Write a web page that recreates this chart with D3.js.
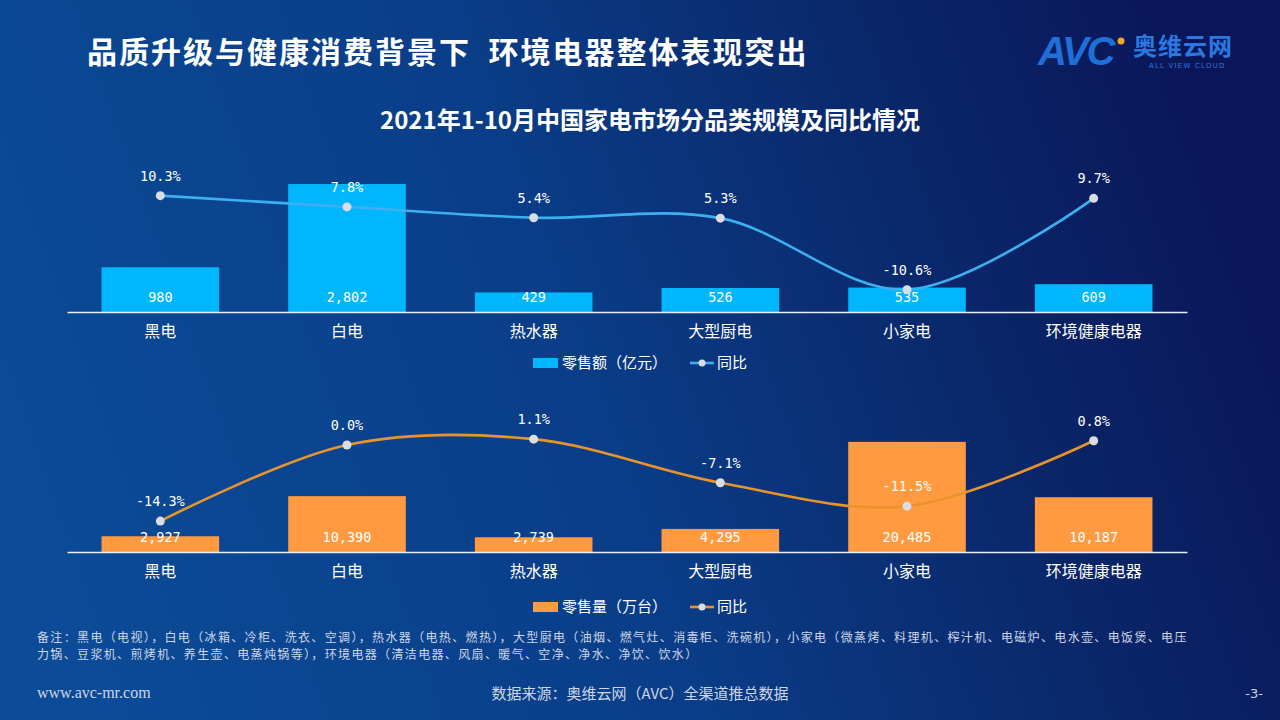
<!DOCTYPE html>
<html><head><meta charset="utf-8">
<script src="https://cdn.jsdelivr.net/npm/d3@7/dist/d3.min.js"></script>
<style>
html,body{margin:0;padding:0;background:#0a2f78;}
svg{display:block;}
</style></head>
<body>
<svg id="c" width="1280" height="720"></svg>
<script>
const categories = ["黑电","白电","热水器","大型厨电","小家电","环境健康电器"];
const salesValue = [980, 2802, 429, 526, 535, 609];          // 零售额（亿元）
const salesValueYoY = [10.3, 7.8, 5.4, 5.3, -10.6, 9.7];       // 同比 %
const salesVolume = [2927, 10390, 2739, 4295, 20485, 10187];  // 零售量（万台）
const salesVolumeYoY = [-14.3, 0.0, 1.1, -7.1, -11.5, 0.8];    // 同比 %
const legendTop = ["零售额（亿元）","同比"];
const legendBottom = ["零售量（万台）","同比"];

const svg = d3.select("#c");
const defs = svg.append("defs");
const g = defs.append("linearGradient").attr("id","bg").attr("x1","0").attr("y1","0.6").attr("x2","1").attr("y2","0.4");
g.append("stop").attr("offset","0").attr("stop-color","#0b4b97");
g.append("stop").attr("offset","0.45").attr("stop-color","#0a3d88");
g.append("stop").attr("offset","0.8").attr("stop-color","#0a2466");
g.append("stop").attr("offset","1").attr("stop-color","#0a1658");
svg.append("rect").attr("width",1280).attr("height",720).attr("fill","url(#bg)");

const CJK = "'Noto Sans CJK SC','Noto Sans',sans-serif";
const MONO = "'DejaVu Sans Mono','Liberation Mono',monospace";

// Header
svg.append("text").attr("x",87).attr("y",63).attr("fill","#ffffff")
  .attr("font-family",CJK).attr("font-weight",700).attr("font-size",30).attr("letter-spacing",2)
  .attr("xml:space","preserve")
  .text("品质升级与健康消费背景下  环境电器整体表现突出");

// Logo
const logo = svg.append("g");
logo.append("text").attr("x",1038).attr("y",65).attr("fill","#1f6fd8")
  .attr("font-family","'Liberation Sans',Arial,sans-serif").attr("font-weight",700).attr("font-style","italic")
  .attr("font-size",40).attr("letter-spacing",-2).text("AVC");
logo.append("circle").attr("cx",1121).attr("cy",41).attr("r",3.5).attr("fill","#f5a623");
logo.append("text").attr("x",1133).attr("y",55).attr("fill","#2a78e0")
  .attr("font-family",CJK).attr("font-weight",700).attr("font-size",24).attr("letter-spacing",1).text("奥维云网");
logo.append("text").attr("x",1149).attr("y",68).attr("fill","#2a78e0")
  .attr("font-family","'DejaVu Sans',sans-serif").attr("font-size",7).attr("letter-spacing",1.2).text("ALL VIEW CLOUD");

// Chart title
svg.append("text").attr("x",650).attr("y",129).attr("text-anchor","middle").attr("fill","#ffffff")
  .attr("font-family",CJK).attr("font-weight",700).attr("font-size",24)
  .text("2021年1-10月中国家电市场分品类规模及同比情况");

const x = d3.scaleBand().domain(categories).range([67,1187]).paddingInner(0.37).paddingOuter(0.185);

function panel(opts){
  const {base, bars, yoy, yBar, yLine, barColor, lineColor, legend, legendY} = opts;
  const p = svg.append("g");
  p.selectAll("rect.bar").data(bars).join("rect").attr("class","bar")
    .attr("x",(d,i)=>x(categories[i])).attr("width",x.bandwidth())
    .attr("y",d=>yBar(d)).attr("height",d=>base - yBar(d)).attr("fill",barColor);
  const ax = p.append("g").attr("transform",`translate(0,${base})`)
    .call(d3.axisBottom(x).tickSize(0).tickPadding(14));
  ax.select(".domain").attr("stroke","#e8eef8").attr("stroke-width",1.3);
  ax.selectAll("text").attr("fill","#ffffff").attr("font-family",CJK).attr("font-size",16);
  p.selectAll("text.val").data(bars).join("text").attr("class","val")
    .attr("x",(d,i)=>x(categories[i])+x.bandwidth()/2).attr("y",base-10)
    .attr("text-anchor","middle").attr("fill","#ffffff").attr("font-family",MONO).attr("font-size",13.5)
    .text(d=>d3.format(",")(d));
  const line = d3.line().x((d,i)=>x(categories[i])+x.bandwidth()/2).y(d=>yLine(d)).curve(d3.curveCatmullRom.alpha(0.5));
  p.append("path").attr("d",line(yoy)).attr("fill","none").attr("stroke",lineColor).attr("stroke-width",2.6);
  p.selectAll("circle.pt").data(yoy).join("circle").attr("class","pt")
    .attr("cx",(d,i)=>x(categories[i])+x.bandwidth()/2).attr("cy",d=>yLine(d)).attr("r",4.5)
    .attr("fill","#d9dde4");
  p.selectAll("text.pct").data(yoy).join("text").attr("class","pct")
    .attr("x",(d,i)=>x(categories[i])+x.bandwidth()/2).attr("y",d=>yLine(d)-15)
    .attr("text-anchor","middle").attr("fill","#ffffff").attr("font-family",MONO).attr("font-size",13.5)
    .text(d=>d.toFixed(1)+"%");
  const lg = p.append("g");
  lg.append("rect").attr("x",533).attr("y",legendY-5).attr("width",25).attr("height",10).attr("fill",barColor);
  lg.append("text").attr("x",562).attr("y",legendY+5).attr("fill","#ffffff").attr("font-family",CJK).attr("font-size",15).text(legend[0]);
  lg.append("line").attr("x1",690).attr("x2",714).attr("y1",legendY).attr("y2",legendY).attr("stroke",lineColor).attr("stroke-width",2.6);
  lg.append("circle").attr("cx",702).attr("cy",legendY).attr("r",3.5).attr("fill","#d9dde4");
  lg.append("text").attr("x",717).attr("y",legendY+5).attr("fill","#ffffff").attr("font-family",CJK).attr("font-size",15).text(legend[1]);
}

panel({
  base:312, bars:salesValue, yoy:salesValueYoY,
  yBar:d3.scaleLinear().domain([0,3000]).range([312,175]),
  yLine:d3.scaleLinear().domain([-15,15]).range([309.5,174.5]),
  barColor:"#00b7fd", lineColor:"#3db0f2", legend:legendTop, legendY:363
});
panel({
  base:552, bars:salesVolume, yoy:salesVolumeYoY,
  yBar:d3.scaleLinear().domain([0,25000]).range([552,417.6]),
  yLine:d3.scaleLinear().domain([-20,5]).range([551.4,418.4]),
  barColor:"#ff9a40", lineColor:"#e8942c", legend:legendBottom, legendY:607
});

// Footnote
const note = svg.append("g").attr("fill","#cdd6e6").attr("font-family",CJK).attr("font-size",12).attr("letter-spacing",1.35);
note.append("text").attr("x",37).attr("y",642)
  .text("备注：黑电（电视），白电（冰箱、冷柜、洗衣、空调），热水器（电热、燃热），大型厨电（油烟、燃气灶、消毒柜、洗碗机），小家电（微蒸烤、料理机、榨汁机、电磁炉、电水壶、电饭煲、电压");
note.append("text").attr("x",37).attr("y",659)
  .text("力锅、豆浆机、煎烤机、养生壶、电蒸炖锅等），环境电器（清洁电器、风扇、暖气、空净、净水、净饮、饮水）");

// Footer
svg.append("text").attr("x",37).attr("y",698).attr("fill","#cdd6e6")
  .attr("font-family","'Liberation Serif','Times New Roman',serif").attr("font-size",16).text("www.avc-mr.com");
svg.append("text").attr("x",640).attr("y",699).attr("text-anchor","middle").attr("fill","#cdd6e6")
  .attr("font-family",CJK).attr("font-size",15).text("数据来源：奥维云网（AVC）全渠道推总数据");
svg.append("text").attr("x",1263).attr("y",698).attr("text-anchor","end").attr("fill","#cdd6e6")
  .attr("font-family","'DejaVu Sans',sans-serif").attr("font-size",13).text("-3-");
</script>
</body></html>
